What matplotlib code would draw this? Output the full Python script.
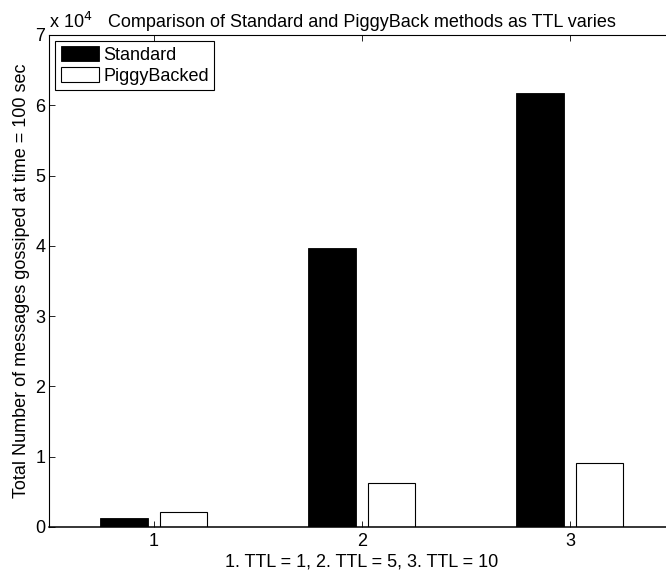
import numpy as np
import matplotlib
matplotlib.use('Agg')
import matplotlib.pyplot as plt
from matplotlib.ticker import FuncFormatter

plt.rcParams['font.family'] = ['Liberation Sans', 'DejaVu Sans']
plt.rcParams['font.size'] = 13

groups = [1, 2, 3]
standard = [1320, 39730, 61800]    # messages gossiped, standard method
piggyback = [2180, 6220, 9060]     # messages gossiped, piggybacked

x = np.array(groups, dtype=float)
w = 0.2286

fig = plt.figure(figsize=(6.66, 5.71), dpi=100)
ax = fig.add_axes([0.0743, 0.0771, 0.9377, 0.8617])

ax.bar(x - 0.1429, standard, w, color='black', edgecolor='black', linewidth=0.6, label='Standard')
ax.bar(x + 0.1429, piggyback, w, color='white', edgecolor='black', linewidth=0.8, label='PiggyBacked')

ax.set_xlim(0.5, 3.5)
ax.set_ylim(0, 70000)
ax.set_xticks(groups)
ax.set_yticks(np.arange(0, 70001, 10000))
ax.yaxis.set_major_formatter(FuncFormatter(lambda v, p: '%d' % round(v / 1e4)))
ax.tick_params(direction='in', length=4, width=0.6, top=True, right=True)
ax.tick_params(axis='x', pad=4)
ax.tick_params(axis='y', pad=3)
for s in ax.spines.values():
    s.set_linewidth(0.8)
ax.spines['bottom'].set_linewidth(1.1)

ax.text(0.0, 1.006, r'x 10$^{4}$', transform=ax.transAxes, ha='left', va='bottom', fontsize=13)
ax.set_title('Comparison of Standard and PiggyBack methods as TTL varies', fontsize=13, pad=6)
ax.set_xlabel('1. TTL = 1, 2. TTL = 5, 3. TTL = 10', labelpad=3)
ax.set_ylabel('Total Number of messages gossiped at time = 100 sec', labelpad=4)

leg = ax.legend(loc='upper left', fancybox=False, framealpha=1, edgecolor='black',
                borderaxespad=0.33, borderpad=0.3, labelspacing=0.17,
                handlelength=2.1, handleheight=0.9, handletextpad=0.25)
leg.get_frame().set_linewidth(0.8)

fig.savefig('out.png', dpi=100)
